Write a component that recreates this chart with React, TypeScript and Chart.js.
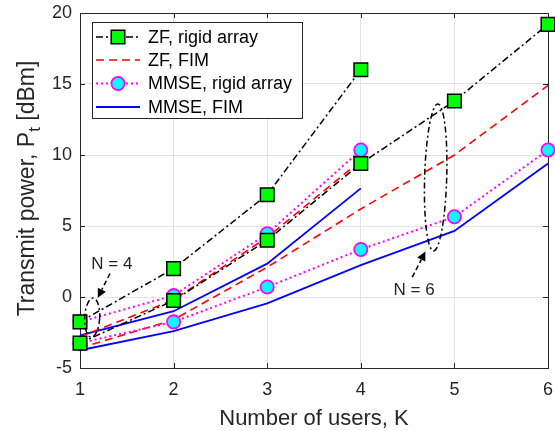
import React, { useEffect, useRef } from "react";
import { Chart, registerables } from "chart.js";

Chart.register(...registerables);

// ---------------- data ----------------
const usersN4 = [1, 2, 3, 4];
const usersN6 = [1, 2, 3, 4, 5, 6];

const zfRigidN4 = [-1.75, 2.0, 7.2, 16.0];
const zfRigidN6 = [-3.25, -0.25, 4.0, 9.4, 13.8, 19.2];
const zfFimN4 = [-2.8, -0.2, 4.2, 9.6];
const zfFimN6 = [-3.6, -1.6, 2.1, 6.2, 10.0, 14.9];
const mmseRigidN4 = [-1.75, 0.1, 4.45, 10.35];
const mmseRigidN6 = [-3.25, -1.75, 0.7, 3.35, 5.65, 10.35];
const mmseFimN4 = [-2.7, -1.0, 2.35, 7.65];
const mmseFimN6 = [-3.75, -2.4, -0.45, 2.25, 4.65, 9.4];

const legendLabels = ["ZF, rigid array", "ZF, FIM", "MMSE, rigid array", "MMSE, FIM"];
const xTicks = [1, 2, 3, 4, 5, 6];
const yTicks = [-5, 0, 5, 10, 15, 20];
const xTitle = "Number of users, K";
const yTitleMain = "Transmit power, P";
const yTitleSub = "t";
const yTitleEnd = " [dBm]";
const noteN4 = "N = 4";
const noteN6 = "N = 6";

// ---------------- styles ----------------
const FONT = '"Liberation Sans", Arial, Helvetica, sans-serif';
const AX = "#262626";
const GRID = "#e3e3e3";
const TICK_FS = 18;
const XTITLE_FS = 22;
const YTITLE_FS = 23;
const LEG_FS = 18;
const NOTE_FS = 17;

type Style = {
  color: string;
  dash: number[];
  marker: false | "rect" | "circle";
  mFill?: string;
  mEdge?: string;
  mRadius?: number;
  width: number;
};
const styles: Record<string, Style> = {
  zfRigid: { color: "#000000", dash: [7, 3, 2, 3], marker: "rect", mFill: "#00ff00", mEdge: "#000000", mRadius: 9.6, width: 1.5 },
  zfFim: { color: "#ff0000", dash: [8, 5], marker: false, width: 1.6 },
  mmseRigid: { color: "#ff00ff", dash: [2, 3], marker: "circle", mFill: "#00ffff", mEdge: "#ff00ff", mRadius: 6.6, width: 2 },
  mmseFim: { color: "#0000ff", dash: [], marker: false, width: 1.8 },
};

const seriesList = [
  { key: "zfRigid", label: legendLabels[0], x: usersN4, y: zfRigidN4 },
  { key: "zfRigid", label: legendLabels[0], x: usersN6, y: zfRigidN6 },
  { key: "mmseRigid", label: legendLabels[2], x: usersN4, y: mmseRigidN4 },
  { key: "mmseRigid", label: legendLabels[2], x: usersN6, y: mmseRigidN6 },
  { key: "zfFim", label: legendLabels[1], x: usersN4, y: zfFimN4 },
  { key: "zfFim", label: legendLabels[1], x: usersN6, y: zfFimN6 },
  { key: "mmseFim", label: legendLabels[3], x: usersN4, y: mmseFimN4 },
  { key: "mmseFim", label: legendLabels[3], x: usersN6, y: mmseFimN6 },
];

const legendKeys = ["zfRigid", "zfFim", "mmseRigid", "mmseFim"];

// annotation geometry (data coordinates)
const ellN4 = { cx: 1.13, cy: -1.45, rx: 0.08, ry: 1.38, rot: 0.05 };
const ellN6 = { cx: 4.8, cy: 8.42, rx: 0.118, ry: 5.18, rot: 0.03 };
const textN4 = { x: 1.34, y: 2.3 };
const textN6 = { x: 4.57, y: 0.45 };
const arrowN4 = { x0: 1.32, y0: 1.65, x1: 1.19, y1: -0.05 };
const arrowN6 = { x0: 4.55, y0: 1.4, x1: 4.69, y1: 3.2 };

function drawMarker(ctx: CanvasRenderingContext2D, s: Style, x: number, y: number) {
  if (!s.marker) return;
  ctx.save();
  ctx.setLineDash([]);
  ctx.fillStyle = s.mFill!;
  ctx.strokeStyle = s.mEdge!;
  ctx.lineWidth = s.marker === "rect" ? 1.5 : 1.8;
  ctx.beginPath();
  if (s.marker === "rect") {
    const h = s.mRadius! * Math.SQRT1_2;
    ctx.rect(x - h, y - h, 2 * h, 2 * h);
  } else {
    ctx.arc(x, y, s.mRadius!, 0, Math.PI * 2);
  }
  ctx.fill();
  ctx.stroke();
  ctx.restore();
}

const overlay = {
  id: "overlay",
  beforeDatasetsDraw(chart: any) {
    const { ctx, chartArea: a } = chart;
    const xs = chart.scales.x;
    const ys = chart.scales.y;
    ctx.save();
    ctx.strokeStyle = AX;
    ctx.lineWidth = 1;
    ctx.setLineDash([]);
    ctx.strokeRect(a.left + 0.5, a.top + 0.5, a.right - a.left, a.bottom - a.top);
    const tl = 5;
    ctx.beginPath();
    for (const v of xTicks) {
      const px = Math.round(xs.getPixelForValue(v)) + 0.5;
      ctx.moveTo(px, a.bottom);
      ctx.lineTo(px, a.bottom - tl);
      ctx.moveTo(px, a.top);
      ctx.lineTo(px, a.top + tl);
    }
    for (const v of yTicks) {
      const py = Math.round(ys.getPixelForValue(v)) + 0.5;
      ctx.moveTo(a.left, py);
      ctx.lineTo(a.left + tl, py);
      ctx.moveTo(a.right, py);
      ctx.lineTo(a.right - tl, py);
    }
    ctx.stroke();
    ctx.restore();
  },
  afterDatasetsDraw(chart: any) {
    const { ctx } = chart;
    const xs = chart.scales.x;
    const ys = chart.scales.y;
    const X = (v: number) => xs.getPixelForValue(v);
    const Y = (v: number) => ys.getPixelForValue(v);
    ctx.save();
    ctx.strokeStyle = "#000";
    ctx.lineWidth = 1.5;
    for (const e of [ellN4, ellN6]) {
      const cx = X(e.cx), cy = Y(e.cy);
      const rx = Math.abs(X(e.cx + e.rx) - cx);
      const ry = Math.abs(Y(e.cy + e.ry) - cy);
      ctx.setLineDash([6, 3, 2, 3]);
      ctx.beginPath();
      ctx.ellipse(cx, cy, rx, ry, e.rot, 0, Math.PI * 2);
      ctx.stroke();
    }
    for (const ar of [arrowN4, arrowN6]) {
      const x0 = X(ar.x0), y0 = Y(ar.y0), x1 = X(ar.x1), y1 = Y(ar.y1);
      const ang = Math.atan2(y1 - y0, x1 - x0);
      const hl = 9, hw = 4.5;
      const bx = x1 - hl * Math.cos(ang), by = y1 - hl * Math.sin(ang);
      ctx.setLineDash([5, 3]);
      ctx.beginPath();
      ctx.moveTo(x0, y0);
      ctx.lineTo(bx, by);
      ctx.stroke();
      ctx.setLineDash([]);
      ctx.fillStyle = "#000";
      ctx.beginPath();
      ctx.moveTo(x1, y1);
      ctx.lineTo(bx + hw * Math.sin(ang), by - hw * Math.cos(ang));
      ctx.lineTo(bx - hw * Math.sin(ang), by + hw * Math.cos(ang));
      ctx.closePath();
      ctx.fill();
    }
    ctx.fillStyle = AX;
    ctx.font = `${NOTE_FS}px ${FONT}`;
    ctx.textAlign = "center";
    ctx.textBaseline = "middle";
    ctx.fillText(noteN4, X(textN4.x), Y(textN4.y));
    ctx.fillText(noteN6, X(textN6.x), Y(textN6.y));
    ctx.restore();
  },
  afterDraw(chart: any) {
    const { ctx, chartArea: a } = chart;
    ctx.save();
    // x title
    ctx.fillStyle = AX;
    ctx.font = `${XTITLE_FS}px ${FONT}`;
    ctx.textAlign = "center";
    ctx.textBaseline = "alphabetic";
    ctx.fillText(xTitle, (a.left + a.right) / 2, 425);
    // y title with subscript
    ctx.save();
    ctx.translate(34, (a.top + a.bottom) / 2 - 2);
    ctx.rotate(-Math.PI / 2);
    ctx.textAlign = "left";
    const subFs = Math.round(YTITLE_FS * 0.72);
    ctx.font = `${YTITLE_FS}px ${FONT}`;
    const w1 = ctx.measureText(yTitleMain).width;
    const w3 = ctx.measureText(yTitleEnd).width;
    ctx.font = `${subFs}px ${FONT}`;
    const w2 = ctx.measureText(yTitleSub).width;
    let sx = -(w1 + w2 + w3) / 2;
    ctx.font = `${YTITLE_FS}px ${FONT}`;
    ctx.fillText(yTitleMain, sx, 0);
    sx += w1;
    ctx.font = `${subFs}px ${FONT}`;
    ctx.fillText(yTitleSub, sx, 6);
    sx += w2;
    ctx.font = `${YTITLE_FS}px ${FONT}`;
    ctx.fillText(yTitleEnd, sx, 0);
    ctx.restore();
    // legend
    const lx = 92, ly = 22, lw = 210, lh = 96;
    ctx.fillStyle = "#ffffff";
    ctx.fillRect(lx, ly, lw, lh);
    ctx.strokeStyle = AX;
    ctx.lineWidth = 1;
    ctx.setLineDash([]);
    ctx.strokeRect(lx + 0.5, ly + 0.5, lw, lh);
    const rows = [37, 60, 83.5, 107];
    legendKeys.forEach((k, i) => {
      const s = styles[k];
      const y = rows[i];
      ctx.strokeStyle = s.color;
      ctx.lineWidth = s.width;
      ctx.setLineDash(s.dash);
      ctx.beginPath();
      ctx.moveTo(96, y);
      ctx.lineTo(140, y);
      ctx.stroke();
      drawMarker(ctx, s, 118, y);
      ctx.fillStyle = "#000";
      ctx.font = `${LEG_FS}px ${FONT}`;
      ctx.textAlign = "left";
      ctx.textBaseline = "middle";
      ctx.fillText(legendLabels[i], 148, y + 1);
    });
    ctx.restore();
  },
};

export default function App() {
  const ref = useRef<HTMLCanvasElement>(null);
  useEffect(() => {
    document.body.style.margin = "0";
    const datasets = seriesList.map((s) => {
      const st = styles[s.key];
      return {
        label: s.label,
        data: s.x.map((xv, i) => ({ x: xv, y: s.y[i] })),
        borderColor: st.color,
        borderWidth: st.width,
        borderDash: st.dash,
        backgroundColor: st.mFill || st.color,
        pointStyle: st.marker || "circle",
        pointRadius: st.marker ? st.mRadius : 0,
        pointHoverRadius: st.marker ? st.mRadius : 0,
        pointBackgroundColor: st.mFill || st.color,
        pointBorderColor: st.mEdge || st.color,
        pointBorderWidth: st.marker === "rect" ? 1.5 : 1.8,
        tension: 0,
        fill: false,
        clip: false as any,
      };
    });
    const chart = new Chart(ref.current!, {
      type: "line",
      data: { datasets },
      plugins: [overlay],
      options: {
        responsive: false,
        animation: false,
        devicePixelRatio: 1,
        layout: { autoPadding: false, padding: { left: 0, top: 13, right: 7, bottom: 0 } },
        plugins: { legend: { display: false }, tooltip: { enabled: false } },
        scales: {
          x: {
            type: "linear",
            min: 1,
            max: 6,
            afterBuildTicks: (sc: any) => {
              sc.ticks = xTicks.map((v) => ({ value: v }));
            },
            afterFit: (sc: any) => {
              sc.height = 63;
              sc.paddingLeft = 0;
              sc.paddingRight = 0;
            },
            grid: { color: GRID, drawTicks: false, lineWidth: 1 },
            border: { display: false },
            ticks: { color: AX, font: { family: FONT, size: TICK_FS }, padding: 11, maxRotation: 0, autoSkip: false },
          },
          y: {
            type: "linear",
            min: -5,
            max: 20,
            afterBuildTicks: (sc: any) => {
              sc.ticks = yTicks.map((v) => ({ value: v }));
            },
            afterFit: (sc: any) => {
              sc.width = 80;
              sc.paddingTop = 0;
              sc.paddingBottom = 0;
            },
            grid: { color: GRID, drawTicks: false, lineWidth: 1 },
            border: { display: false },
            ticks: { color: AX, font: { family: FONT, size: TICK_FS }, padding: 8, autoSkip: false },
          },
        },
      },
    });
    return () => chart.destroy();
  }, []);
  return (
    <div style={{ width: 555, height: 431, position: "relative", background: "#fff" }}>
      <canvas ref={ref} width={555} height={431} style={{ width: 555, height: 431, display: "block" }} />
    </div>
  );
}
